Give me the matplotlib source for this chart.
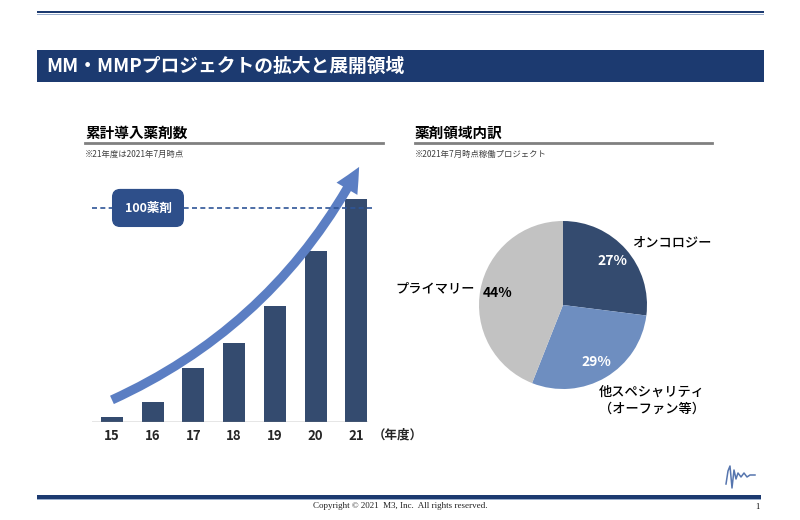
import numpy as np
import matplotlib
matplotlib.use('Agg')
import matplotlib.pyplot as plt
from matplotlib.patches import Rectangle

plt.rcParams['font.family'] = ['Noto Sans CJK JP', 'DejaVu Sans']

# --------------------------
# DATA
# --------------------------
years = ['15', '16', '17', '18', '19', '20', '21']
drug_counts = [2, 9, 25, 37, 54, 80, 104]
target_line = 100

pie_labels = ['オンコロジー', '他スペシャリティ\n（オーファン等）', 'プライマリー']
pie_shares = [27, 29, 44]

navy = '#1C3A70'
bar_color = '#344B6F'
arrow_color = '#5B7EC3'
pie_colors = ['#344B6F', '#6E8EC0', '#C2C2C2']

fig = plt.figure(figsize=(8, 5.2), dpi=100)

# background axes in pixel coordinates (0..800, 0..520 from top)
bg = fig.add_axes([0, 0, 1, 1], zorder=0)
bg.set_xlim(0, 800)
bg.set_ylim(520, 0)
bg.axis('off')

# top double rule
bg.add_patch(Rectangle((37, 10.5), 727, 2.6, color=navy, lw=0))
bg.add_patch(Rectangle((37, 13.6), 727, 1.4, color='#9AAECD', lw=0))

# title bar
bg.add_patch(Rectangle((37, 50), 727, 32, color=navy, lw=0))
bg.text(46, 66.5, 'MM・MMPプロジェクトの拡大と展開領域', color='white',
        fontsize=13.5, fontweight='bold', va='center', ha='left')

# section headers
bg.text(85, 133, '累計導入薬剤数', fontsize=10.5, fontweight='bold', va='center')
bg.plot([85, 383], [143, 143], color='#808080', lw=2)
bg.text(85, 154, '※21年度は2021年7月時点', fontsize=6, color='#404040', va='center')

bg.text(415, 133, '薬剤領域内訳', fontsize=10.5, fontweight='bold', va='center')
bg.plot([415, 712], [143, 143], color='#808080', lw=2)
bg.text(415, 154, '※2021年7月時点稼働プロジェクト', fontsize=6, color='#404040', va='center')

# footer
bg.add_patch(Rectangle((37, 494.5), 724, 4, color=navy, lw=0))
bg.add_patch(Rectangle((37, 498.5), 724, 1, color='#9AAECD', lw=0))
bg.text(400, 506, 'Copyright © 2021  M3, Inc.  All rights reserved.', family='Liberation Serif',
        fontsize=6.5, ha='center', va='center', color='#222222')
bg.text(757, 507, '1', family='Liberation Serif', fontsize=6, ha='center', va='center')
logo_x = [726, 728, 730, 732, 734, 736, 738, 741, 744, 747, 750, 755]
logo_y = [484, 471, 466, 488, 470, 479, 473, 477, 473, 477, 475, 475]
bg.plot(logo_x, logo_y, color='#5675AE', lw=1.1)

# --------------------------
# BAR CHART
# --------------------------
ax = fig.add_axes([92 / 800, (520 - 421.7) / 520, 283 / 800, (421.7 - 165) / 520], zorder=1)
ax.patch.set_alpha(0)
x = np.arange(len(years))
ax.bar(x, drug_counts, width=0.54, color=bar_color, zorder=2)
ax.set_xlim(-0.49, 6.46)
ax.set_ylim(0, 120.1)
for s in ax.spines.values():
    s.set_visible(False)
ax.axhline(0, xmin=0, xmax=0.972, color='#808080', lw=1, zorder=3)
ax.set_yticks([])
ax.set_xticks(x)
ax.set_xticklabels(years, fontsize=9.5, fontweight='bold', color='#262626')
ax.tick_params(axis='x', length=0, pad=5)

# growth arrow
ax.annotate('', xy=(6.07, 119.2), xytext=(0.0, 10.2),
            arrowprops=dict(arrowstyle='simple,head_length=1.5,head_width=1.45,tail_width=0.55',
                            connectionstyle='arc3,rad=0.17', color=arrow_color,
                            mutation_scale=12, shrinkA=0, shrinkB=0, lw=0),
            zorder=3)

# 100 drugs target line
ax.axhline(target_line, color='#2F5597', ls=(0, (3, 2)), lw=1.2, zorder=4)
ax.text(0.885, target_line, '100薬剤', color='white', fontsize=9, fontweight='bold',
        ha='center', va='center', zorder=5,
        bbox=dict(boxstyle='round,pad=0.95,rounding_size=0.6', fc='#2E4F8A', ec='#2E4F8A'))

fig.text(373 / 800, 1 - 435 / 520, '（年度）', fontsize=9, fontweight='bold',
         color='#262626', va='center', ha='left')

# --------------------------
# PIE CHART
# --------------------------
pax = fig.add_axes([(563 - 84) / 800, (520 - 305 - 84) / 520, 168 / 800, 168 / 520], zorder=1)
wedges, _, autotexts = pax.pie(pie_shares, colors=pie_colors, startangle=90, counterclock=False,
                               autopct='%d%%', pctdistance=0.79, radius=1,
                               textprops=dict(fontsize=10, fontweight='bold'))
for t, c in zip(autotexts, ['white', 'white', 'black']):
    t.set_color(c)
pax.set_xlim(-1, 1)
pax.set_ylim(-1, 1)
pax.set_aspect('equal')

pax.text(0.82, 0.75, pie_labels[0], fontsize=9.5, fontweight='medium', ha='left', va='center')
pax.text(0.43, -1.13, pie_labels[1], fontsize=9.5, fontweight='medium', ha='left', va='center',
         linespacing=1.25)
pax.text(-1.05, 0.2, pie_labels[2], fontsize=9.5, fontweight='medium', ha='right', va='center')

fig.savefig('out.png', dpi=100)
